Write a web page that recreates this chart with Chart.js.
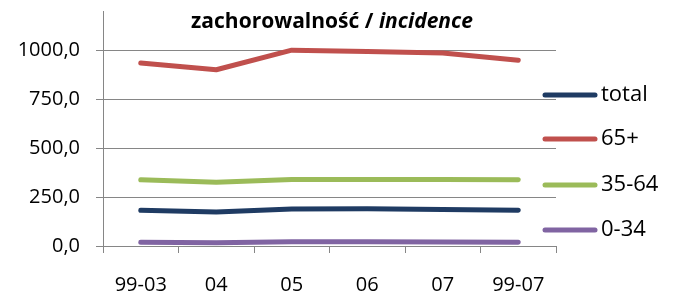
<!DOCTYPE html>
<html>
<head>
<meta charset="utf-8">
<script src="https://cdn.jsdelivr.net/npm/chart.js@4/dist/chart.umd.min.js"></script>
<style>
  html, body { margin: 0; padding: 0; background: #fff; }
  #wrap { width: 679px; height: 296px; }
</style>
</head>
<body>
<div id="wrap"><canvas id="chart"></canvas></div>
<script>
const years = ["99-03", "04", "05", "06", "07", "99-07"]
const total = [182, 173, 189, 190, 187, 183]
const age65plus = [934, 900, 1000, 993, 985, 949]
const age35to64 = [338, 325, 340, 340, 340, 338]
const age0to34 = [19, 17, 22, 22, 20, 19]
const yTicks = [0, 250, 500, 750, 1000]

const FONT = "'Open Sans', sans-serif"
const GRID = "#868686"

// title is half bold, half bold-italic, so draw it by hand
const titlePlugin = {
  id: "mixedTitle",
  afterDraw(chart) {
    const ctx = chart.ctx
    const a = "zachorowalność / "
    const b = "incidence"
    ctx.save()
    ctx.fillStyle = "#000"
    ctx.textBaseline = "alphabetic"
    ctx.font = "bold 21px " + FONT
    const wa = ctx.measureText(a).width
    ctx.font = "italic bold 21px " + FONT
    const wb = ctx.measureText(b).width
    let x = 332 - (wa + wb) / 2
    ctx.font = "bold 21px " + FONT
    ctx.fillText(a, x, 28)
    ctx.font = "italic bold 21px " + FONT
    ctx.fillText(b, x + wa, 28)
    ctx.restore()
  }
}

// Excel style legend on the right
const legendPlugin = {
  id: "sideLegend",
  afterDraw(chart) {
    const ctx = chart.ctx
    const rows = [95, 139, 185, 230]
    ctx.save()
    chart.data.datasets.forEach((ds, i) => {
      const y = rows[i]
      ctx.strokeStyle = ds.borderColor
      ctx.lineWidth = 5
      ctx.lineCap = "round"
      ctx.beginPath()
      ctx.moveTo(545, y)
      ctx.lineTo(595, y)
      ctx.stroke()
      ctx.fillStyle = "#000"
      ctx.font = "22px " + FONT
      ctx.textBaseline = "middle"
      ctx.fillText(ds.label, 601, y)
    })
    ctx.restore()
  }
}

const line = (label, data, color) => ({
  label: label,
  data: data,
  borderColor: color,
  backgroundColor: color,
  borderWidth: 5,
  borderCapStyle: "round",
  borderJoinStyle: "round",
  pointRadius: 0,
  tension: 0
})

new Chart(document.getElementById("chart"), {
  type: "line",
  data: {
    labels: years,
    datasets: [
      line("total", total, "#1F3B63"),
      line("65+", age65plus, "#C0504D"),
      line("35-64", age35to64, "#9BBB59"),
      line("0-34", age0to34, "#8064A2")
    ]
  },
  options: {
    responsive: true,
    maintainAspectRatio: false,
    animation: false,
    layout: { padding: { top: 11, right: 123, left: 0, bottom: 0 } },
    plugins: {
      legend: { display: false },
      title: { display: false },
      tooltip: { enabled: false }
    },
    scales: {
      x: {
        offset: true,
        grid: { drawOnChartArea: false, color: GRID, tickColor: GRID, tickLength: 7, offset: true },
        border: { color: GRID, width: 1 },
        ticks: { color: "#000", font: { family: FONT, size: 20 }, padding: 20, maxRotation: 0 },
        afterFit: axis => { axis.height = 50; axis.paddingLeft = 0; axis.paddingRight = 0 }
      },
      y: {
        min: 0,
        max: 1200,
        grid: { color: GRID, tickColor: GRID, tickLength: 7 },
        border: { color: GRID, width: 1 },
        ticks: {
          color: "#000",
          font: { family: FONT, size: 20 },
          padding: 16,
          callback: v => v.toFixed(1).replace(".", ",")
        },
        afterBuildTicks: axis => { axis.ticks = yTicks.map(v => ({ value: v })) },
        afterFit: axis => { axis.width = 103; axis.paddingTop = 0; axis.paddingBottom = 0 }
      }
    }
  },
  plugins: [titlePlugin, legendPlugin]
})
</script>
</body>
</html>
